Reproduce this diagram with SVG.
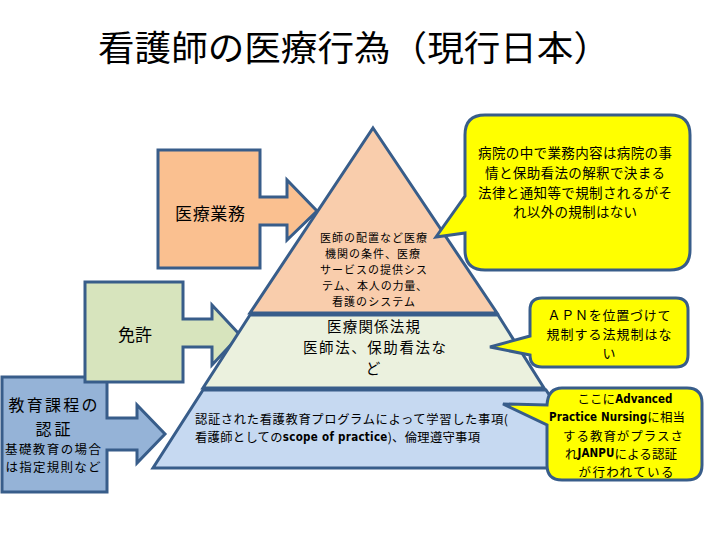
<svg xmlns="http://www.w3.org/2000/svg" width="720" height="540" viewBox="0 0 720 540">
<style>
.s{stroke:#385D8A;stroke-width:3;stroke-linejoin:miter}
.t{font-family:"Noto Sans CJK JP","Noto Sans",sans-serif;fill:#000;text-anchor:middle;dominant-baseline:central}
.l{font-family:"DejaVu Sans Condensed","Liberation Sans",sans-serif;font-weight:bold}
</style>
<rect width="720" height="540" fill="#fff"/>
<text class="t" x="354" y="45" font-size="35" textLength="512" lengthAdjust="spacingAndGlyphs">看護師の医療行為（現行日本）</text>

<g id="connectors">
<g id="arrow-edu">
<path class="s" fill="#95B3D7" d="M2,377 H107 V418 H137 V405 L165,434 L137,463 V450 H107 V492 H2 Z"/>
<text class="t" x="53" y="404" font-size="16" textLength="89">教育課程の</text>
<text class="t" x="53" y="427.5" font-size="16" textLength="35">認証</text>
<text class="t" x="53" y="448" font-size="12.5" textLength="96">基礎教育の場合</text>
<text class="t" x="53" y="466.3" font-size="12.5" textLength="95">は指定規則など</text>
</g>
<g id="arrow-license">
<path class="s" fill="#D7E4BD" d="M85,282 H183 V319 H212 V305 L240,335 L212,365 V347 H183 V382 H85 Z"/>
<text class="t" x="135" y="333" font-size="17">免許</text>
</g>
<g id="arrow-medical">
<path class="s" fill="#FAC090" d="M158,150 H260 V197 H287 V180 L317,211 L287,240 V225 H260 V268 H158 Z"/>
<text class="t" x="210" y="212" font-size="17" textLength="70">医療業務</text>
</g>
</g>

<g id="pyramid-bottom">
<path class="s" fill="#C6D9F1" d="M203,390 H546 L598,468 H153 Z"/>
<text class="t" x="195" y="419" font-size="12.3" textLength="313" style="text-anchor:start">認証された看護教育プログラムによって学習した事項(</text>
<text class="t" x="195" y="437.2" font-size="12.3" textLength="285" style="text-anchor:start">看護師としての<tspan class="l" font-size="11.5">scope of practice</tspan>)、倫理遵守事項</text>
</g>
<g id="pyramid-middle">
<path class="s" fill="#EBF1DE" d="M250,315 H498 L544,388 H203 Z"/>
<text class="t" x="373.5" y="325" font-size="14.5" textLength="93">医療関係法規</text>
<text class="t" x="374.5" y="346.2" font-size="14.5" textLength="143">医師法、保助看法な</text>
<text class="t" x="373" y="367.4" font-size="14.5">ど</text>
</g>
<g id="pyramid-top">
<path class="s" fill="#F9CDAC" d="M373,128 L497,313 H250 Z"/>
<text class="t" x="373.5" y="237" font-size="11" textLength="107">医師の配置など医療</text>
<text class="t" x="372.5" y="253.1" font-size="11" textLength="95">機関の条件、医療</text>
<text class="t" x="373.5" y="269.2" font-size="11" textLength="107">サービスの提供シス</text>
<text class="t" x="374.5" y="285.3" font-size="11" textLength="105">テム、本人の力量、</text>
<text class="t" x="373.5" y="301.4" font-size="11" textLength="83">看護のシステム</text>
</g>

<g id="callout-hospital">
<path class="s" fill="#FFFF00" d="M485,115 H670 Q690,115 690,135 V250 Q690,270 670,270 H485 Q465,270 465,250 V233 L436,237 L465,196 V135 Q465,115 485,115 Z"/>
<text class="t" x="575" y="152" font-size="13.5" textLength="194">病院の中で業務内容は病院の事</text>
<text class="t" x="575" y="171.8" font-size="13.5" textLength="180">情と保助看法の解釈で決まる</text>
<text class="t" x="575" y="191.6" font-size="13.5" textLength="194">法律と通知等で規制されるがそ</text>
<text class="t" x="575" y="211.4" font-size="13.5" textLength="124">れ以外の規制はない</text>
</g>
<g id="callout-apn">
<path class="s" fill="#FFFF00" d="M542,298 H676 Q688,298 688,310 V355 Q688,367 676,367 H542 Q530,367 530,355 L490,347 L530,336 V310 Q530,298 542,298 Z"/>
<text class="t" x="609" y="314" font-size="13" textLength="123">ＡＰＮを位置づけて</text>
<text class="t" x="609" y="333" font-size="13" textLength="125">規制する法規制はな</text>
<text class="t" x="609" y="352" font-size="13">い</text>
</g>
<g id="callout-janpu">
<path class="s" fill="#FFFF00" d="M562,388 H687 Q702,388 702,403 V465 Q702,480 687,480 H562 Q547,480 547,465 V425 L503,404 L547,405 Q548,388 562,388 Z"/>
<text class="t" x="625" y="398.8" font-size="12.5" textLength="95">ここに<tspan class="l" font-size="11.5">Advanced</tspan></text>
<text class="t" x="617" y="416.9" font-size="12.5" textLength="136"><tspan class="l" font-size="11.5">Practice Nursing</tspan>に相当</text>
<text class="t" x="623" y="435" font-size="12.5" textLength="120">する教育がプラスさ</text>
<text class="t" x="621" y="453.1" font-size="12.5" textLength="112">れ<tspan class="l" font-size="11.5">JANPU</tspan>による認証</text>
<text class="t" x="626" y="471.2" font-size="12.5" textLength="95">が行われている</text>
</g>
</svg>
